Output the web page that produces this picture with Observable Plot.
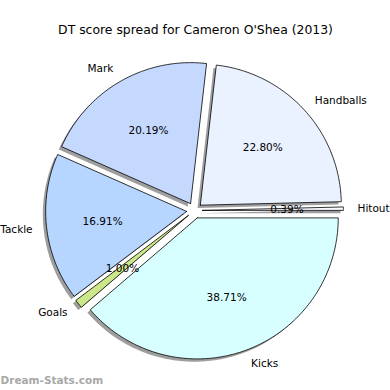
<!DOCTYPE html>
<html>
<head>
<meta charset="utf-8">
<script src="https://cdn.jsdelivr.net/npm/d3@7"></script>
<script src="https://cdn.jsdelivr.net/npm/@observablehq/plot@0.6"></script>
<style>
  html, body { margin: 0; padding: 0; background: #fff; }
</style>
</head>
<body>
<div id="chart"></div>
<script>
const title = "DT score spread for Cameron O'Shea (2013)";
const names = ["Hitout", "Handballs", "Mark", "Tackle", "Goals", "Kicks"];
const pcts = [0.39, 22.80, 20.19, 16.91, 1.00, 38.71];
const colors = ["#f8f8ff", "#eaf1ff", "#c5d9ff", "#b6d6ff", "#cce68a", "#d8ffff"];
const watermark = "Dream-Stats.com";

// geometry (pie radius = 1 unit)
const R = 141, CX = 194, CY = 210, W = 390, H = 390;
const explode = 0.056, shadowOff = 0.02;

const total = d3.sum(pcts);
let acc = 0;
const slices = names.map((name, i) => {
  const a0 = acc / total * 2 * Math.PI;
  acc += pcts[i];
  const a1 = acc / total * 2 * Math.PI;
  const mid = (a0 + a1) / 2;
  return {name, pct: pcts[i], color: colors[i], a0, a1, mid,
          ox: explode * Math.cos(mid), oy: explode * Math.sin(mid)};
});

function poly(s, dx, dy) {
  const pts = [{x: s.ox + dx, y: s.oy + dy}];
  const n = Math.max(4, Math.ceil((s.a1 - s.a0) / (Math.PI / 180)));
  for (let k = 0; k <= n; k++) {
    const a = s.a0 + (s.a1 - s.a0) * k / n;
    pts.push({x: s.ox + dx + Math.cos(a), y: s.oy + dy + Math.sin(a)});
  }
  pts.push({x: s.ox + dx, y: s.oy + dy});
  return pts.map(p => ({...p, name: s.name, color: s.color}));
}

const shadowPts = slices.flatMap(s => poly(s, -shadowOff, -shadowOff));
const slicePts = slices.flatMap(s => poly(s, 0, 0));

const labels = slices.map(s => ({
  name: s.name,
  x: s.ox + 1.1 * Math.cos(s.mid),
  y: s.oy + 1.1 * Math.sin(s.mid),
  left: Math.cos(s.mid) > 0
}));
const pctLabels = slices.map(s => ({
  text: s.pct.toFixed(2) + "%",
  x: s.ox + 0.6 * Math.cos(s.mid),
  y: s.oy + 0.6 * Math.sin(s.mid)
}));

const font = "DejaVu Sans, Verdana, sans-serif";

const chart = Plot.plot({
  width: W, height: H, margin: 0,
  style: {fontFamily: font, background: "#fff"},
  x: {domain: [-CX / R, (W - CX) / R], axis: null},
  y: {domain: [-(H - CY) / R, CY / R], axis: null},
  marks: [
    Plot.line(shadowPts, {x: "x", y: "y", z: "name", fill: "#000", fillOpacity: 0.38, stroke: "none"}),
    Plot.line(slicePts, {x: "x", y: "y", z: "name", fill: "color", stroke: "#000", strokeWidth: 0.8, strokeLinejoin: "miter"}),
    Plot.text(labels.filter(d => d.left), {x: "x", y: "y", text: "name", textAnchor: "start", fontSize: 10.5, fill: "#000"}),
    Plot.text(labels.filter(d => !d.left), {x: "x", y: "y", text: "name", textAnchor: "end", fontSize: 10.5, fill: "#000"}),
    Plot.text(pctLabels, {x: "x", y: "y", text: "text", fontSize: 10.5, fill: "#000"}),
    Plot.text([title], {frameAnchor: "top", dy: 25, text: d => d, fontSize: 12.4, fill: "#000"}),
    Plot.text([watermark], {frameAnchor: "bottom-left", dx: 0, dy: -7, text: d => d, textAnchor: "start", fontSize: 10.5, fontWeight: "bold", fill: "#a8a8a8"})
  ]
});
document.getElementById("chart").appendChild(chart);
</script>
</body>
</html>
